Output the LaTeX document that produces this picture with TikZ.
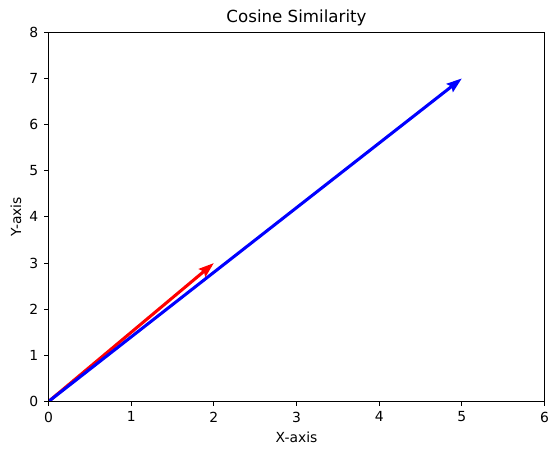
\documentclass[tikz,border=0pt]{standalone}
\usepackage{fontspec}
\setmainfont{DejaVu Sans}
\usetikzlibrary{arrows.meta}

\begin{document}
\begin{tikzpicture}[
            x=59.52pt, y=33.23pt,
            frame/.style={draw, line width=0.8pt},
            tick/.style={line width=0.8pt},
            ticklabel/.style={font=\fontsize{10}{12}\selectfont, inner sep=0pt},
            axislabel/.style={font=\fontsize{10}{12}\selectfont, inner sep=0pt},
            vec/.style={line width=2.2pt, -{Stealth[length=11pt, width=7.4pt, inset=1.6pt]}}
        ]
            \useasboundingbox (-0.587,-1.159) rectangle (6.163,8.70);

            \coordinate (o) at (0,0);
            \coordinate (u) at (2,3);
            \coordinate (v) at (5,7);

            % vectors
            \begin{scope}
                \clip (0,0) rectangle (6,8);
                \draw[vec, red] (o) -- (u);
                \draw[vec, blue] (o) -- (v);
            \end{scope}

            % axes
            \draw[frame] (0,0) rectangle (6,8);
            \foreach \i in {0,...,6}
                \draw[tick] (\i,0) -- ++(0,-3.5pt) node[ticklabel, anchor=north, yshift=-3.5pt] (xl\i) {\i};
            \foreach \j in {0,...,8}
                \draw[tick] (0,\j) -- ++(-3.5pt,0) node[ticklabel, anchor=east, xshift=-3.5pt] (yl\j) {\j};

            \node[axislabel] (xlab) at (3,-0.769) {X-axis};
            \node[axislabel, rotate=90] (ylab) at (-0.393,4) {Y-axis};
            \node[font=\fontsize{12}{14}\selectfont, inner sep=0pt] (title) at (3,8.31) {Cosine Similarity};
        \end{tikzpicture}
\end{document}
